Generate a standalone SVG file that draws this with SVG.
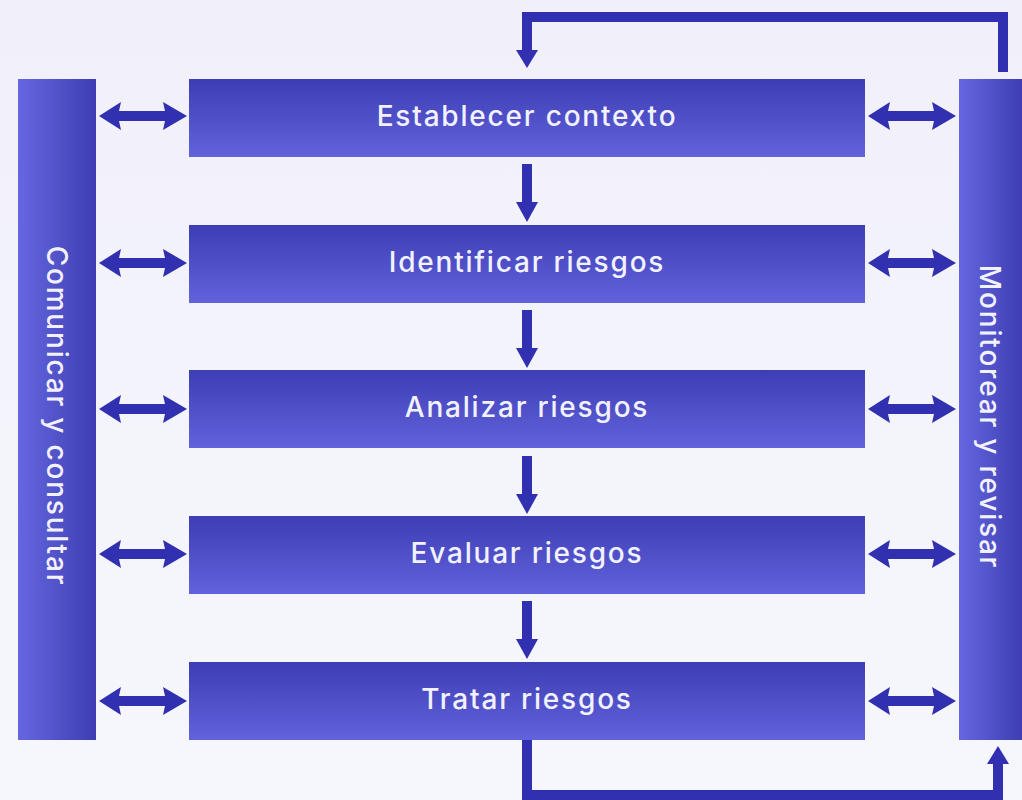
<svg xmlns="http://www.w3.org/2000/svg" width="1022" height="800" viewBox="0 0 1022 800">
<defs>
<linearGradient id="gBox" x1="0" y1="0" x2="0" y2="1">
<stop offset="0" stop-color="#3d3db4"/>
<stop offset="1" stop-color="#6262dc"/>
</linearGradient>
<linearGradient id="gBar" x1="0" y1="0" x2="1" y2="0">
<stop offset="0" stop-color="#6666e0"/>
<stop offset="1" stop-color="#3e3eb2"/>
</linearGradient>
<linearGradient id="gBg" x1="0" y1="0" x2="0" y2="1">
<stop offset="0" stop-color="#f1f0fa"/>
<stop offset="1" stop-color="#f6f7fd"/>
</linearGradient>
<path id="dbl" d="M0,0 L22,-14 L20,-5 L66,-5 L64,-14 L88,0 L64,14 L66,5 L20,5 L22,14 Z"/>
</defs>
<style>
.box{fill:url(#gBox)}
.bar{fill:url(#gBar)}
.lbl{font-family:Inter,"Open Sans","Liberation Sans",sans-serif;font-size:28px;font-weight:500;letter-spacing:1.8px;fill:#f2f2ff;text-anchor:middle;dominant-baseline:central}
.arr{fill:#3030b0}
.ln{fill:none;stroke:#3030b0;stroke-width:10;stroke-linejoin:miter}
</style>
<rect width="1022" height="800" fill="url(#gBg)"/>

<g id="connectors">
<use href="#dbl" x="99" y="116" class="arr"/>
<use href="#dbl" x="99" y="263" class="arr"/>
<use href="#dbl" x="99" y="409" class="arr"/>
<use href="#dbl" x="99" y="554" class="arr"/>
<use href="#dbl" x="99" y="701" class="arr"/>
<use href="#dbl" x="868" y="116" class="arr"/>
<use href="#dbl" x="868" y="263" class="arr"/>
<use href="#dbl" x="868" y="409" class="arr"/>
<use href="#dbl" x="868" y="554" class="arr"/>
<use href="#dbl" x="868" y="701" class="arr"/>
<g class="arr">
<path d="M522,164 h10 v38 h6 l-11,20 l-11,-20 h6 z"/>
<path d="M522,310 h10 v38 h6 l-11,20 l-11,-20 h6 z"/>
<path d="M522,456 h10 v38 h6 l-11,20 l-11,-20 h6 z"/>
<path d="M522,601 h10 v38 h6 l-11,20 l-11,-20 h6 z"/>
</g>
<path class="ln" d="M1003,72 V17 H527 V52"/>
<path class="arr" d="M516,50 h22 l-11,18 z"/>
<path class="ln" d="M527,740 V795 H998 V762"/>
<path class="arr" d="M987,764 h22 l-11,-18 z"/>
</g>

<g id="comunicar">
<rect class="bar" x="18" y="79" width="78" height="661"/>
<text class="lbl" transform="translate(57,416) rotate(90)">Comunicar y consultar</text>
</g>
<g id="monitorear">
<rect class="bar" x="959" y="79" width="63" height="661"/>
<text class="lbl" transform="translate(990,417) rotate(90)">Monitorear y revisar</text>
</g>
<g id="establecer">
<rect class="box" x="189" y="79" width="676" height="78"/>
<text class="lbl" x="527" y="116">Establecer contexto</text>
</g>
<g id="identificar">
<rect class="box" x="189" y="225" width="676" height="78"/>
<text class="lbl" x="527" y="262">Identificar riesgos</text>
</g>
<g id="analizar">
<rect class="box" x="189" y="370" width="676" height="78"/>
<text class="lbl" x="527" y="407">Analizar riesgos</text>
</g>
<g id="evaluar">
<rect class="box" x="189" y="516" width="676" height="78"/>
<text class="lbl" x="527" y="553">Evaluar riesgos</text>
</g>
<g id="tratar">
<rect class="box" x="189" y="662" width="676" height="78"/>
<text class="lbl" x="527" y="699">Tratar riesgos</text>
</g>
</svg>
